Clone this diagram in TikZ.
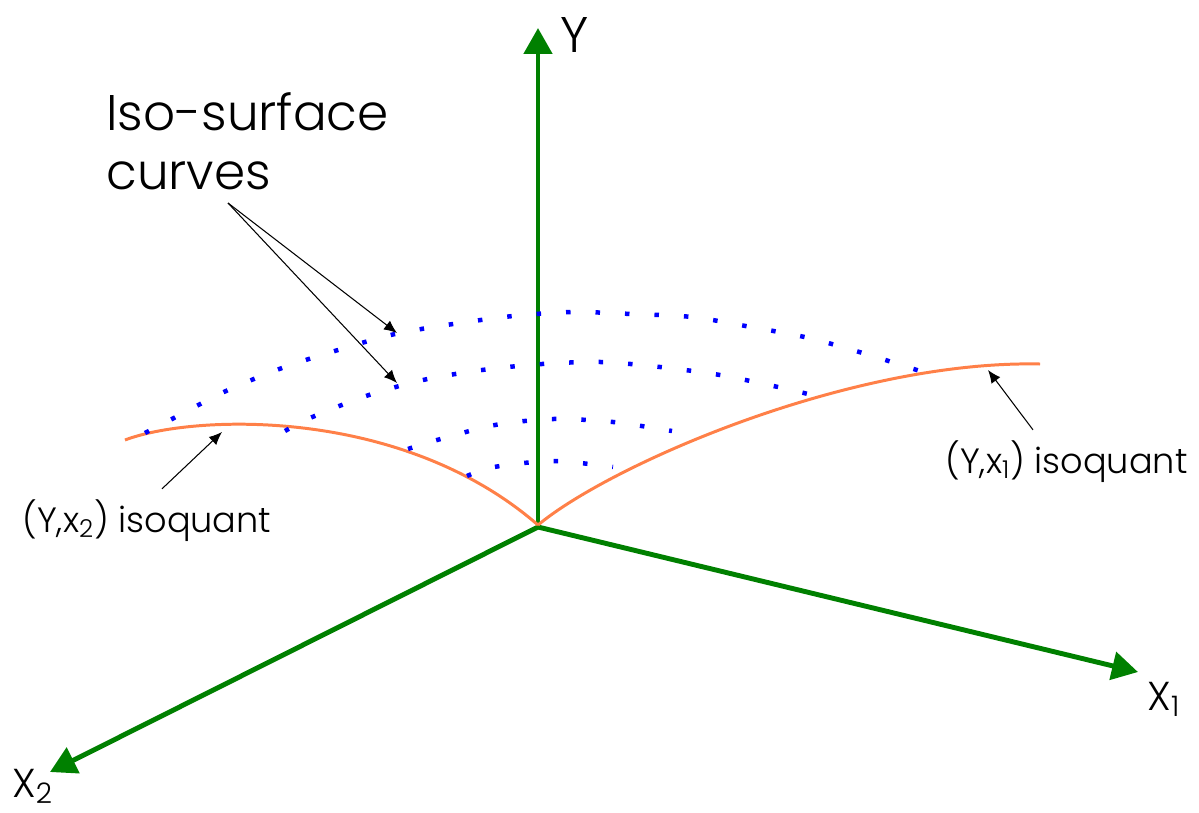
\documentclass[tikz,border=0pt]{standalone}
\usepackage{fontspec}
\setmainfont{Poppins Light}
\usetikzlibrary{arrows.meta, positioning, calc}
\definecolor{axisgreen}{RGB}{0,128,0}
\definecolor{isoorange}{RGB}{255,128,72}
\tikzset{
  axis/.style={
    line width=2.8pt, draw=axisgreen,
    -{Triangle[length=0.52cm, width=0.56cm]}
  },
  isoquant/.style={line width=1.7pt, draw=isoorange},
  isocurve/.style={
    line width=0.09cm, draw=blue,
    dash pattern=on 0.09cm off 0.5cm
  },
  pointer/.style={-{Latex[length=0.26cm, width=0.22cm]}, line width=0.6pt, draw=black},
  biglabel/.style={font=\fontsize{28.5}{33.6}\selectfont, inner sep=0pt, align=left},
  axislabel/.style={font=\fontsize{23}{27}\selectfont, inner sep=0pt},
  smalllabel/.style={font=\fontsize{20}{24}\selectfont, inner sep=0pt}
}

\begin{document}
\begin{tikzpicture}[x=0.02cm, y=-0.02cm]
  \useasboundingbox (0,0) rectangle (1199,812);

  % axes
  \coordinate (origin) at (538,527);
  \coordinate (ytip) at (538,28);
  \coordinate (xonetip) at (1138,672);
  \coordinate (xtwotip) at (50,772);
  \draw[axis] (origin) -- (ytip);
  \draw[axis] (origin) -- (xonetip);
  \draw[axis] (origin) -- (xtwotip);

  \node[biglabel, anchor=base] (ylabel) at (575,52) {Y};
  \node[axislabel, anchor=base west] (xonelabel) at (1147,710) {X\textsubscript{1}};
  \node[axislabel, anchor=base west] (xtwolabel) at (12,797) {X\textsubscript{2}};

  % isoquants
  \draw[isoquant] (125,440) .. controls (190,415) and (400,405) .. (538,525);
  \draw[isoquant] (538,525) .. controls (610,465) and (850,360) .. (1040,364);

  % iso-surface curves
  \draw[isocurve] plot[smooth] coordinates {(145,433) (172,419) (226,391) (282,368)
    (338,350) (395,334) (453,324) (513,316) (572,312) (632,314) (692,317)
    (751,327) (809,338) (866,354) (923,372)};
  \draw[isocurve] plot[smooth] coordinates {(285,431) (310,418) (366,396) (423,380)
    (482,370) (542,364) (601,362) (660,367) (720,375) (778,387) (808,394)};
  \draw[isocurve] plot[smooth] coordinates {(408,449) (437,440) (495,425) (553,419)
    (613,422) (672,431)};
  \draw[isocurve] plot[smooth] coordinates {(467,476) (494,467) (553,461) (613,467)};

  % labels and pointers
  \node[biglabel, anchor=north west] (isolabel) at (106,92) {Iso-surface\\curves};
  \coordinate (isofoot) at (228,203);
  \coordinate (topcurve) at (397,333);
  \coordinate (secondcurve) at (397,383);
  \draw[pointer] (isofoot) -- (topcurve);
  \draw[pointer] (isofoot) -- (secondcurve);

  \node[smalllabel, anchor=base west] (xtwoiso) at (22,532) {(Y,x\textsubscript{2}) isoquant};
  \node[smalllabel, anchor=base west] (xoneiso) at (945,473) {(Y,x\textsubscript{1}) isoquant};
  \coordinate (xtwopoint) at (222,432);
  \coordinate (xonepoint) at (988,370);
  \draw[pointer] ([xshift=2.8cm, yshift=0.2cm]xtwoiso.north west) -- (xtwopoint);
  \draw[pointer] ([xshift=1.76cm, yshift=0.2cm]xoneiso.north west) -- (xonepoint);
\end{tikzpicture}
\end{document}
